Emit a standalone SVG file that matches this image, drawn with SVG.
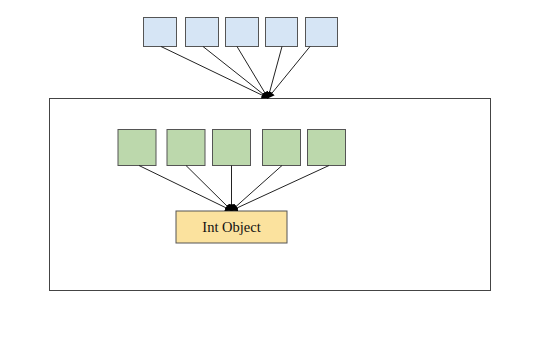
<svg xmlns="http://www.w3.org/2000/svg" width="540" height="354" viewBox="0 0 540 354">
<style>
.blue{fill:#d6e5f5;stroke:#555;stroke-width:1}
.green{fill:#bcd8ac;stroke:#555;stroke-width:1}
.yellow{fill:#fbe29e;stroke:#555;stroke-width:1}
.frame{fill:none;stroke:#444;stroke-width:1}
.edge{stroke:#222;stroke-width:1;fill:none;marker-end:url(#ah)}
.lbl{font-family:"Liberation Serif",serif;font-size:14.5px;fill:#111;text-anchor:middle}
</style>
<defs>
<marker id="ah" viewBox="0 0 10 10" refX="9" refY="5" markerWidth="7" markerHeight="7" markerUnits="userSpaceOnUse" orient="auto">
<path d="M0,0 L10,5 L0,10 z" fill="#000"/>
</marker>
</defs>
<rect width="540" height="354" fill="#ffffff"/>
<g id="container"><rect class="frame" x="49.5" y="98.5" width="441" height="192"/></g>
<g id="b1"><rect class="blue" x="143.5" y="17.5" width="33" height="29"/></g>
<g id="b2"><rect class="blue" x="185.5" y="17.5" width="33" height="29"/></g>
<g id="b3"><rect class="blue" x="225.5" y="17.5" width="33" height="29"/></g>
<g id="b4"><rect class="blue" x="265.5" y="17.5" width="32" height="29"/></g>
<g id="b5"><rect class="blue" x="305.5" y="17.5" width="32" height="29"/></g>
<g id="g1"><rect class="green" x="118" y="129.5" width="38" height="36"/></g>
<g id="g2"><rect class="green" x="167" y="129.5" width="38" height="36"/></g>
<g id="g3"><rect class="green" x="212.5" y="129.5" width="38" height="36"/></g>
<g id="g4"><rect class="green" x="262.5" y="129.5" width="38" height="36"/></g>
<g id="g5"><rect class="green" x="307.5" y="129.5" width="38" height="36"/></g>
<g id="int"><rect class="yellow" x="176" y="211" width="111" height="32"/><text class="lbl" x="231.5" y="232">Int Object</text></g>
<g id="connectors">
<line class="edge" x1="161" y1="46.5" x2="268" y2="98"/>
<line class="edge" x1="203" y1="46.5" x2="268" y2="98"/>
<line class="edge" x1="237" y1="46.5" x2="268" y2="98"/>
<line class="edge" x1="282" y1="46.5" x2="268" y2="98"/>
<line class="edge" x1="310" y1="46.5" x2="268" y2="98"/>
<line class="edge" x1="139" y1="165.5" x2="231.5" y2="210.5"/>
<line class="edge" x1="186" y1="165.5" x2="231.5" y2="210.5"/>
<line class="edge" x1="231.5" y1="165.5" x2="231.5" y2="210.5"/>
<line class="edge" x1="282" y1="165.5" x2="231.5" y2="210.5"/>
<line class="edge" x1="329" y1="165.5" x2="231.5" y2="210.5"/>
</g>
</svg>
